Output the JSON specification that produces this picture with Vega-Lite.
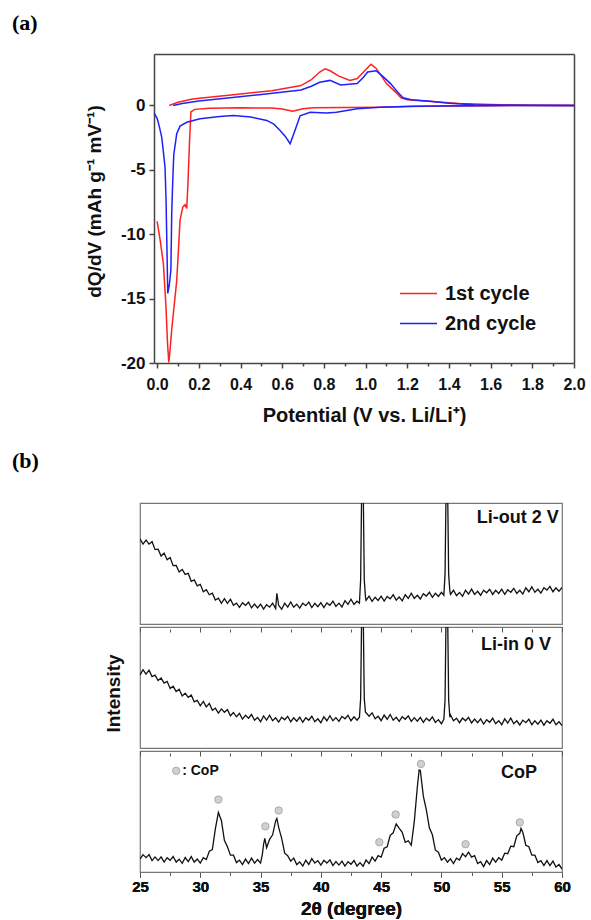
{
"$schema": "https://vega.github.io/schema/vega-lite/v6.json",
"background": "white",
"padding": {"left": 12, "top": 12, "right": 0, "bottom": 0},
"spacing": 25,
"config": {
  "font": "Liberation Sans",
  "axis": {"grid": false, "labelFont": "Liberation Sans", "titleFont": "Liberation Sans", "labelFontWeight": "bold", "titleFontWeight": "bold", "labelColor": "#111", "titleColor": "#111", "domainColor": "#444", "tickColor": "#444"},
  "view": {"stroke": "#444"}
},
"datasets": {
  "cv": [
    {"c":"1st cycle","s":"rd","V":0.0,"q":-9.0},{"c":"1st cycle","s":"rd","V":0.015,"q":-10.5},{"c":"1st cycle","s":"rd","V":0.03,"q":-12.3},{"c":"1st cycle","s":"rd","V":0.042,"q":-15.5},{"c":"1st cycle","s":"rd","V":0.05,"q":-18.5},{"c":"1st cycle","s":"rd","V":0.056,"q":-19.95},{"c":"1st cycle","s":"rd","V":0.062,"q":-19.0},{"c":"1st cycle","s":"rd","V":0.07,"q":-17.4},{"c":"1st cycle","s":"rd","V":0.082,"q":-15.5},{"c":"1st cycle","s":"rd","V":0.094,"q":-13.6},{"c":"1st cycle","s":"rd","V":0.103,"q":-11.0},{"c":"1st cycle","s":"rd","V":0.11,"q":-8.9},{"c":"1st cycle","s":"rd","V":0.123,"q":-7.9},{"c":"1st cycle","s":"rd","V":0.134,"q":-7.7},{"c":"1st cycle","s":"rd","V":0.142,"q":-8.0},{"c":"1st cycle","s":"rd","V":0.148,"q":-6.0},{"c":"1st cycle","s":"rd","V":0.155,"q":-3.0},{"c":"1st cycle","s":"rd","V":0.162,"q":-0.5},{"c":"1st cycle","s":"rd","V":0.18,"q":-0.3},{"c":"1st cycle","s":"rd","V":0.25,"q":-0.22},{"c":"1st cycle","s":"rd","V":0.4,"q":-0.18},{"c":"1st cycle","s":"rd","V":0.55,"q":-0.2},{"c":"1st cycle","s":"rd","V":0.6,"q":-0.28},{"c":"1st cycle","s":"rd","V":0.65,"q":-0.45},{"c":"1st cycle","s":"rd","V":0.7,"q":-0.25},{"c":"1st cycle","s":"rd","V":0.75,"q":-0.18},{"c":"1st cycle","s":"rd","V":0.9,"q":-0.15},{"c":"1st cycle","s":"rd","V":1.07,"q":-0.13},{"c":"1st cycle","s":"rd","V":1.2,"q":-0.08},{"c":"1st cycle","s":"rd","V":1.4,"q":-0.03},{"c":"1st cycle","s":"rd","V":1.6,"q":-0.01},{"c":"1st cycle","s":"rd","V":2.0,"q":0},
    {"c":"1st cycle","s":"rc","V":0.058,"q":0.0},{"c":"1st cycle","s":"rc","V":0.1,"q":0.25},{"c":"1st cycle","s":"rc","V":0.17,"q":0.5},{"c":"1st cycle","s":"rc","V":0.25,"q":0.65},{"c":"1st cycle","s":"rc","V":0.4,"q":0.9},{"c":"1st cycle","s":"rc","V":0.55,"q":1.15},{"c":"1st cycle","s":"rc","V":0.69,"q":1.55},{"c":"1st cycle","s":"rc","V":0.74,"q":2.0},{"c":"1st cycle","s":"rc","V":0.78,"q":2.6},{"c":"1st cycle","s":"rc","V":0.806,"q":2.85},{"c":"1st cycle","s":"rc","V":0.83,"q":2.7},{"c":"1st cycle","s":"rc","V":0.87,"q":2.3},{"c":"1st cycle","s":"rc","V":0.925,"q":1.95},{"c":"1st cycle","s":"rc","V":0.96,"q":2.1},{"c":"1st cycle","s":"rc","V":0.99,"q":2.6},{"c":"1st cycle","s":"rc","V":1.026,"q":3.2},{"c":"1st cycle","s":"rc","V":1.05,"q":2.9},{"c":"1st cycle","s":"rc","V":1.08,"q":2.2},{"c":"1st cycle","s":"rc","V":1.1,"q":1.7},{"c":"1st cycle","s":"rc","V":1.14,"q":1.1},{"c":"1st cycle","s":"rc","V":1.17,"q":0.6},{"c":"1st cycle","s":"rc","V":1.2,"q":0.45},{"c":"1st cycle","s":"rc","V":1.3,"q":0.33},{"c":"1st cycle","s":"rc","V":1.45,"q":0.15},{"c":"1st cycle","s":"rc","V":1.6,"q":0.07},{"c":"1st cycle","s":"rc","V":1.8,"q":0.02},{"c":"1st cycle","s":"rc","V":2.0,"q":0.0},
    {"c":"2nd cycle","s":"bd","V":-0.014,"q":-0.6},{"c":"2nd cycle","s":"bd","V":0.0,"q":-1.0},{"c":"2nd cycle","s":"bd","V":0.01,"q":-1.6},{"c":"2nd cycle","s":"bd","V":0.022,"q":-2.45},{"c":"2nd cycle","s":"bd","V":0.03,"q":-3.6},{"c":"2nd cycle","s":"bd","V":0.038,"q":-4.8},{"c":"2nd cycle","s":"bd","V":0.043,"q":-7.5},{"c":"2nd cycle","s":"bd","V":0.047,"q":-11},{"c":"2nd cycle","s":"bd","V":0.051,"q":-14.6},{"c":"2nd cycle","s":"bd","V":0.058,"q":-14.0},{"c":"2nd cycle","s":"bd","V":0.066,"q":-12.8},{"c":"2nd cycle","s":"bd","V":0.07,"q":-8.4},{"c":"2nd cycle","s":"bd","V":0.075,"q":-5.8},{"c":"2nd cycle","s":"bd","V":0.08,"q":-3.8},{"c":"2nd cycle","s":"bd","V":0.094,"q":-2.2},{"c":"2nd cycle","s":"bd","V":0.11,"q":-1.6},{"c":"2nd cycle","s":"bd","V":0.142,"q":-1.3},{"c":"2nd cycle","s":"bd","V":0.206,"q":-1.03},{"c":"2nd cycle","s":"bd","V":0.3,"q":-0.85},{"c":"2nd cycle","s":"bd","V":0.365,"q":-0.78},{"c":"2nd cycle","s":"bd","V":0.45,"q":-0.9},{"c":"2nd cycle","s":"bd","V":0.526,"q":-1.16},{"c":"2nd cycle","s":"bd","V":0.56,"q":-1.45},{"c":"2nd cycle","s":"bd","V":0.59,"q":-1.94},{"c":"2nd cycle","s":"bd","V":0.615,"q":-2.4},{"c":"2nd cycle","s":"bd","V":0.638,"q":-2.97},{"c":"2nd cycle","s":"bd","V":0.66,"q":-2.0},{"c":"2nd cycle","s":"bd","V":0.686,"q":-0.8},{"c":"2nd cycle","s":"bd","V":0.734,"q":-0.52},{"c":"2nd cycle","s":"bd","V":0.814,"q":-0.59},{"c":"2nd cycle","s":"bd","V":0.86,"q":-0.52},{"c":"2nd cycle","s":"bd","V":0.96,"q":-0.26},{"c":"2nd cycle","s":"bd","V":1.07,"q":-0.13},{"c":"2nd cycle","s":"bd","V":1.23,"q":-0.06},{"c":"2nd cycle","s":"bd","V":1.5,"q":-0.01},{"c":"2nd cycle","s":"bd","V":2.0,"q":0},
    {"c":"2nd cycle","s":"bc","V":0.077,"q":0.0},{"c":"2nd cycle","s":"bc","V":0.12,"q":0.15},{"c":"2nd cycle","s":"bc","V":0.2,"q":0.35},{"c":"2nd cycle","s":"bc","V":0.35,"q":0.6},{"c":"2nd cycle","s":"bc","V":0.5,"q":0.85},{"c":"2nd cycle","s":"bc","V":0.69,"q":1.2},{"c":"2nd cycle","s":"bc","V":0.74,"q":1.5},{"c":"2nd cycle","s":"bc","V":0.78,"q":1.8},{"c":"2nd cycle","s":"bc","V":0.83,"q":1.95},{"c":"2nd cycle","s":"bc","V":0.88,"q":1.6},{"c":"2nd cycle","s":"bc","V":0.96,"q":1.7},{"c":"2nd cycle","s":"bc","V":0.99,"q":2.2},{"c":"2nd cycle","s":"bc","V":1.01,"q":2.6},{"c":"2nd cycle","s":"bc","V":1.05,"q":2.7},{"c":"2nd cycle","s":"bc","V":1.08,"q":2.3},{"c":"2nd cycle","s":"bc","V":1.12,"q":1.7},{"c":"2nd cycle","s":"bc","V":1.15,"q":1.1},{"c":"2nd cycle","s":"bc","V":1.18,"q":0.6},{"c":"2nd cycle","s":"bc","V":1.22,"q":0.45},{"c":"2nd cycle","s":"bc","V":1.31,"q":0.33},{"c":"2nd cycle","s":"bc","V":1.4,"q":0.17},{"c":"2nd cycle","s":"bc","V":1.52,"q":0.05},{"c":"2nd cycle","s":"bc","V":1.7,"q":0.01},{"c":"2nd cycle","s":"bc","V":2.0,"q":0.0}
  ],
  "b1": [
    {"t":25,"I":86},{"t":25.25,"I":80.5},{"t":25.5,"I":84.5},{"t":25.75,"I":80.5},{"t":26,"I":83},{"t":26.25,"I":75},{"t":26.5,"I":75.5},{"t":26.75,"I":68.5},{"t":27,"I":71.5},{"t":27.25,"I":64.8},{"t":27.5,"I":67},{"t":27.75,"I":58.8},{"t":28,"I":59},{"t":28.25,"I":52.5},{"t":28.5,"I":55},{"t":28.75,"I":50},{"t":29,"I":51},{"t":29.25,"I":43},{"t":29.5,"I":44.5},{"t":29.75,"I":38.5},{"t":30,"I":40},{"t":30.25,"I":32.5},{"t":30.5,"I":34.5},{"t":30.75,"I":29.5},{"t":31,"I":31},{"t":31.25,"I":24.2},{"t":31.5,"I":26},{"t":31.75,"I":20.8},{"t":32,"I":25.5},{"t":32.25,"I":20.8},{"t":32.5,"I":25},{"t":32.75,"I":18.8},{"t":33,"I":21},{"t":33.25,"I":16.8},{"t":33.5,"I":21.5},{"t":33.75,"I":18.8},{"t":34,"I":22},{"t":34.25,"I":16.2},{"t":34.5,"I":20},{"t":34.75,"I":16.2},{"t":35,"I":20},{"t":35.25,"I":15},{"t":35.5,"I":19.5},{"t":35.75,"I":17},{"t":36,"I":21},{"t":36.25,"I":15.6},{"t":36.35,"I":31},{"t":36.5,"I":18.8},{"t":36.75,"I":14.9},{"t":37,"I":21},{"t":37.25,"I":17.1},{"t":37.5,"I":22.2},{"t":37.75,"I":16.9},{"t":38,"I":20},{"t":38.25,"I":16},{"t":38.5,"I":21},{"t":38.75,"I":18.5},{"t":39,"I":22},{"t":39.25,"I":16.6},{"t":39.5,"I":20.8},{"t":39.75,"I":17.4},{"t":40,"I":21.5},{"t":40.25,"I":16.6},{"t":40.5,"I":21.2},{"t":40.75,"I":18.9},{"t":41,"I":23},{"t":41.25,"I":17.8},{"t":41.5,"I":21},{"t":41.75,"I":17.2},{"t":42,"I":23.5},{"t":42.25,"I":19.8},{"t":42.5,"I":25},{"t":42.75,"I":19.8},{"t":43,"I":23},{"t":43.2,"I":21},{"t":43.3,"I":45},{"t":43.38,"I":130},{"t":43.45,"I":400},{"t":43.52,"I":130},{"t":43.6,"I":45},{"t":43.7,"I":27},{"t":43.75,"I":23.8},{"t":44,"I":28},{"t":44.25,"I":22.8},{"t":44.5,"I":27},{"t":44.75,"I":23.8},{"t":45,"I":28},{"t":45.25,"I":23.1},{"t":45.5,"I":27.8},{"t":45.75,"I":25.4},{"t":46,"I":29.5},{"t":46.25,"I":24.1},{"t":46.5,"I":27.2},{"t":46.75,"I":23.4},{"t":47,"I":29.5},{"t":47.25,"I":25.8},{"t":47.5,"I":31},{"t":47.75,"I":25.8},{"t":48,"I":29},{"t":48.25,"I":25.2},{"t":48.5,"I":30.5},{"t":48.75,"I":28.2},{"t":49,"I":32},{"t":49.25,"I":26.8},{"t":49.5,"I":31},{"t":49.75,"I":27.8},{"t":50,"I":32},{"t":50.2,"I":29},{"t":50.3,"I":50},{"t":50.38,"I":130},{"t":50.45,"I":400},{"t":50.52,"I":130},{"t":50.6,"I":50},{"t":50.7,"I":33},{"t":50.75,"I":29.8},{"t":51,"I":34},{"t":51.25,"I":28.6},{"t":51.5,"I":31.8},{"t":51.75,"I":27.9},{"t":52,"I":34},{"t":52.25,"I":30.1},{"t":52.5,"I":35.2},{"t":52.75,"I":29.9},{"t":53,"I":33},{"t":53.25,"I":29},{"t":53.5,"I":34},{"t":53.75,"I":31.5},{"t":54,"I":35},{"t":54.25,"I":29.8},{"t":54.5,"I":34},{"t":54.75,"I":30.8},{"t":55,"I":35},{"t":55.25,"I":30},{"t":55.5,"I":34.5},{"t":55.75,"I":32},{"t":56,"I":36},{"t":56.25,"I":30.8},{"t":56.5,"I":34},{"t":56.75,"I":30.2},{"t":57,"I":36.5},{"t":57.25,"I":32.5},{"t":57.5,"I":37.5},{"t":57.75,"I":32},{"t":58,"I":35},{"t":58.25,"I":31.2},{"t":58.5,"I":36.5},{"t":58.75,"I":34.2},{"t":59,"I":38},{"t":59.25,"I":32.5},{"t":59.5,"I":36.5},{"t":59.75,"I":33},{"t":60,"I":37}
  ],
  "b2": [
    {"t":25,"I":73.5},{"t":25.25,"I":79},{"t":25.5,"I":74.5},{"t":25.75,"I":78.5},{"t":26,"I":72},{"t":26.25,"I":73.5},{"t":26.5,"I":68},{"t":26.75,"I":70.5},{"t":27,"I":65.5},{"t":27.25,"I":67.2},{"t":27.5,"I":60},{"t":27.75,"I":62.2},{"t":28,"I":57},{"t":28.25,"I":59.2},{"t":28.5,"I":52.5},{"t":28.75,"I":55.2},{"t":29,"I":51},{"t":29.25,"I":53.5},{"t":29.5,"I":46.5},{"t":29.75,"I":48},{"t":30,"I":42.5},{"t":30.25,"I":47},{"t":30.5,"I":41.5},{"t":30.75,"I":45},{"t":31,"I":38},{"t":31.25,"I":40.1},{"t":31.5,"I":35.2},{"t":31.75,"I":39.4},{"t":32,"I":36},{"t":32.25,"I":38.8},{"t":32.5,"I":32.5},{"t":32.75,"I":35.8},{"t":33,"I":31.5},{"t":33.25,"I":34.9},{"t":33.5,"I":29.2},{"t":33.75,"I":33.1},{"t":34,"I":30},{"t":34.25,"I":33.8},{"t":34.5,"I":28},{"t":34.75,"I":30.8},{"t":35,"I":26.5},{"t":35.25,"I":32.4},{"t":35.5,"I":28.2},{"t":35.75,"I":33.1},{"t":36,"I":27.5},{"t":36.25,"I":30.4},{"t":36.5,"I":26.2},{"t":36.75,"I":31.1},{"t":37,"I":28.5},{"t":37.25,"I":32},{"t":37.5,"I":26.5},{"t":37.75,"I":30.5},{"t":38,"I":27},{"t":38.25,"I":31},{"t":38.5,"I":26},{"t":38.75,"I":30.5},{"t":39,"I":28},{"t":39.25,"I":32},{"t":39.5,"I":26.5},{"t":39.75,"I":29.5},{"t":40,"I":25.5},{"t":40.25,"I":31.5},{"t":40.5,"I":27.5},{"t":40.75,"I":32.5},{"t":41,"I":27.5},{"t":41.25,"I":30.6},{"t":41.5,"I":26.8},{"t":41.75,"I":31.9},{"t":42,"I":29.5},{"t":42.25,"I":33},{"t":42.5,"I":27.5},{"t":42.75,"I":31.5},{"t":43,"I":28},{"t":43.2,"I":31},{"t":43.3,"I":50},{"t":43.38,"I":130},{"t":43.45,"I":400},{"t":43.52,"I":130},{"t":43.6,"I":50},{"t":43.7,"I":36},{"t":43.75,"I":35.5},{"t":44,"I":32},{"t":44.25,"I":35.5},{"t":44.5,"I":29.5},{"t":44.75,"I":32},{"t":45,"I":27.5},{"t":45.25,"I":33.2},{"t":45.5,"I":29},{"t":45.75,"I":33.8},{"t":46,"I":28},{"t":46.25,"I":30.9},{"t":46.5,"I":26.8},{"t":46.75,"I":31.6},{"t":47,"I":29},{"t":47.25,"I":32.4},{"t":47.5,"I":26.8},{"t":47.75,"I":30.6},{"t":48,"I":27},{"t":48.25,"I":30.9},{"t":48.5,"I":25.8},{"t":48.75,"I":30.1},{"t":49,"I":27.5},{"t":49.25,"I":31.4},{"t":49.5,"I":25.8},{"t":49.75,"I":28.6},{"t":50,"I":24.5},{"t":50.2,"I":29},{"t":50.3,"I":48},{"t":50.38,"I":130},{"t":50.45,"I":400},{"t":50.52,"I":130},{"t":50.6,"I":48},{"t":50.7,"I":31},{"t":50.75,"I":33.5},{"t":51,"I":27.5},{"t":51.25,"I":30},{"t":51.5,"I":25.5},{"t":51.75,"I":30.2},{"t":52,"I":27.5},{"t":52.25,"I":30.9},{"t":52.5,"I":25.2},{"t":52.75,"I":29.1},{"t":53,"I":25.5},{"t":53.25,"I":29.4},{"t":53.5,"I":24.2},{"t":53.75,"I":28.6},{"t":54,"I":26},{"t":54.25,"I":30},{"t":54.5,"I":24.5},{"t":54.75,"I":27.5},{"t":55,"I":23.5},{"t":55.25,"I":29.4},{"t":55.5,"I":25.2},{"t":55.75,"I":30.1},{"t":56,"I":24.5},{"t":56.25,"I":27.4},{"t":56.5,"I":23.2},{"t":56.75,"I":28.1},{"t":57,"I":25.5},{"t":57.25,"I":29},{"t":57.5,"I":23.5},{"t":57.75,"I":27.5},{"t":58,"I":24},{"t":58.25,"I":28},{"t":58.5,"I":23},{"t":58.75,"I":27.5},{"t":59,"I":25},{"t":59.25,"I":29},{"t":59.5,"I":23.5},{"t":59.75,"I":26.5},{"t":60,"I":22.5}
  ],
  "b3": [
    {"t":25,"I":13},{"t":25.25,"I":17.5},{"t":25.5,"I":14.5},{"t":25.75,"I":17.5},{"t":26,"I":11.5},{"t":26.25,"I":15.2},{"t":26.5,"I":11.5},{"t":26.75,"I":15.2},{"t":27,"I":10},{"t":27.25,"I":14.4},{"t":27.5,"I":11.8},{"t":27.75,"I":15.6},{"t":28,"I":10},{"t":28.25,"I":12.9},{"t":28.5,"I":8.8},{"t":28.75,"I":14.6},{"t":29,"I":10.5},{"t":29.25,"I":15.5},{"t":29.5,"I":10},{"t":29.75,"I":13},{"t":30,"I":9},{"t":30.25,"I":14.5},{"t":30.5,"I":12.5},{"t":30.75,"I":21},{"t":31,"I":22.5},{"t":31.25,"I":43.5},{"t":31.5,"I":60},{"t":31.75,"I":52},{"t":32,"I":32},{"t":32.25,"I":25.5},{"t":32.5,"I":17},{"t":32.75,"I":17},{"t":33,"I":9.5},{"t":33.25,"I":12},{"t":33.5,"I":7.5},{"t":33.75,"I":13},{"t":34,"I":8.5},{"t":34.25,"I":14},{"t":34.5,"I":9},{"t":34.75,"I":12.5},{"t":35,"I":9},{"t":35.15,"I":18},{"t":35.25,"I":28},{"t":35.35,"I":34},{"t":35.5,"I":24.5},{"t":35.75,"I":33},{"t":36,"I":37.5},{"t":36.25,"I":51.5},{"t":36.35,"I":54},{"t":36.5,"I":45},{"t":36.75,"I":34},{"t":37,"I":19},{"t":37.25,"I":16.5},{"t":37.5,"I":11},{"t":37.75,"I":14},{"t":38,"I":7.5},{"t":38.25,"I":10.2},{"t":38.5,"I":6},{"t":38.75,"I":11.8},{"t":39,"I":7.5},{"t":39.25,"I":13.5},{"t":39.5,"I":9},{"t":39.75,"I":11.5},{"t":40,"I":7},{"t":40.25,"I":11.8},{"t":40.5,"I":9},{"t":40.75,"I":12.2},{"t":41,"I":6.5},{"t":41.25,"I":10.5},{"t":41.5,"I":7},{"t":41.75,"I":11},{"t":42,"I":6},{"t":42.25,"I":10.4},{"t":42.5,"I":7.8},{"t":42.75,"I":11.6},{"t":43,"I":6},{"t":43.25,"I":9.4},{"t":43.5,"I":5.8},{"t":43.75,"I":12.1},{"t":44,"I":8.5},{"t":44.25,"I":15},{"t":44.5,"I":11},{"t":44.75,"I":16.5},{"t":45,"I":15},{"t":45.25,"I":24},{"t":45.5,"I":25.5},{"t":45.75,"I":37},{"t":46,"I":39.5},{"t":46.25,"I":48.5},{"t":46.5,"I":44},{"t":46.75,"I":40},{"t":47,"I":30},{"t":47.25,"I":31.5},{"t":47.5,"I":27},{"t":47.75,"I":51},{"t":48,"I":85.5},{"t":48.15,"I":103},{"t":48.25,"I":102.5},{"t":48.35,"I":92},{"t":48.5,"I":76.5},{"t":48.75,"I":62.5},{"t":49,"I":44.5},{"t":49.25,"I":37.5},{"t":49.5,"I":22},{"t":49.75,"I":20},{"t":50,"I":12},{"t":50.25,"I":14.5},{"t":50.5,"I":10},{"t":50.75,"I":13.3},{"t":51,"I":8.5},{"t":51.25,"I":14},{"t":51.5,"I":12},{"t":51.75,"I":18.5},{"t":52,"I":15.5},{"t":52.25,"I":20},{"t":52.5,"I":15},{"t":52.75,"I":16.5},{"t":53,"I":8.5},{"t":53.25,"I":10.5},{"t":53.5,"I":5.5},{"t":53.75,"I":11.5},{"t":54,"I":7.5},{"t":54.25,"I":14},{"t":54.5,"I":10},{"t":54.75,"I":14.5},{"t":55,"I":12},{"t":55.25,"I":19},{"t":55.5,"I":18.5},{"t":55.75,"I":26},{"t":56,"I":25.5},{"t":56.25,"I":36.5},{"t":56.5,"I":39},{"t":56.6,"I":44},{"t":56.75,"I":40},{"t":57,"I":27},{"t":57.25,"I":25.5},{"t":57.5,"I":17},{"t":57.75,"I":17},{"t":58,"I":9.5},{"t":58.25,"I":11.5},{"t":58.5,"I":6.5},{"t":58.75,"I":11.5},{"t":59,"I":6.5},{"t":59.25,"I":11},{"t":59.5,"I":5},{"t":59.75,"I":7.5},{"t":60,"I":3}
  ],
  "cop": [
    {"t":31.5,"I":73},{"t":35.4,"I":46},{"t":36.5,"I":62},{"t":44.85,"I":30},{"t":46.2,"I":58},{"t":48.3,"I":109},{"t":52.0,"I":28},{"t":56.5,"I":50},{"t":28.0,"I":102}
  ]
},
"vconcat": [
  {
    "width": 434, "height": 309,
    "view": {"stroke": null},
    "title": {"text": "(a)", "anchor": "start", "frame": "group", "dx": -128, "offset": -3, "baseline": "bottom", "font": "Liberation Serif", "fontSize": 22, "fontWeight": "bold", "color": "#000"},
    "data": {"name": "cv"},
    "layer": [
      {
        "mark": {"type": "line", "strokeWidth": 1.5, "clip": true},
        "encoding": {
          "x": {"field": "V", "type": "quantitative", "scale": {"domain": [-0.015, 2], "range": [14, 434], "nice": false, "zero": false},
            "axis": {"values": [0,0.1,0.2,0.3,0.4,0.5,0.6,0.7,0.8,0.9,1.0,1.1,1.2,1.3,1.4,1.5,1.6,1.7,1.8,1.9,2.0],
              "labelExpr": "round(datum.value*10) % 2 === 0 ? format(datum.value, '.1f') : ''",
              "tickSize": {"condition": {"test": "round(datum.value*10) % 2 === 0", "value": 5}, "value": 3},
              "labelFontSize": 16, "labelPadding": 8, "labelOverlap": false, "labelFlush": false,
              "title": "Potential (V vs. Li/Li⁺)", "titleFontSize": 20, "titlePadding": 13,
              "domainWidth": 1.5, "tickWidth": 1.5}},
          "y": {"field": "q", "type": "quantitative", "scale": {"domain": [-20, 4], "nice": false, "zero": false},
            "axis": {"values": [-20,-15,-10,-5,0], "labelExpr": "toString(datum.value)", "tickSize": 5, "offset": -14,
              "labelFontSize": 17, "labelPadding": 4, "labelOverlap": false, "labelFlush": false,
              "title": "dQ/dV (mAh g⁻¹ mV⁻¹)", "titleFontSize": 19, "titlePadding": 16, "titleY": 147,
              "domainWidth": 1.5, "tickWidth": 1.5}},
          "color": {"field": "c", "type": "nominal",
            "scale": {"domain": ["1st cycle", "2nd cycle"], "range": ["#ff2020", "#2020ff"]},
            "legend": {"orient": "none", "legendX": 259, "legendY": 220, "title": null, "symbolType": "stroke", "symbolSize": 1369, "symbolStrokeWidth": 1.6, "labelFontSize": 20, "labelFontWeight": "bold", "labelFont": "Liberation Sans", "labelColor": "#111", "rowPadding": -3, "labelOffset": 7}},
          "detail": {"field": "s"}
        }
      },
      {
        "mark": {"type": "line", "opacity": 0},
        "encoding": {
          "x": {"field": "V", "type": "quantitative",
            "axis": {"orient": "top", "labels": false, "ticks": false, "title": null, "domainWidth": 1.5}},
          "y": {"field": "q", "type": "quantitative",
            "axis": {"orient": "right", "labels": false, "ticks": false, "title": null, "domainWidth": 1.5}},
          "detail": {"field": "s"}
        }
      }
    ],
    "resolve": {"axis": {"x": "independent", "y": "independent"}}
  },
  {
    "spacing": 0,
    "title": {"text": "(b)", "anchor": "start", "frame": "group", "dx": -128, "offset": 7, "baseline": "bottom", "font": "Liberation Serif", "fontSize": 22, "fontWeight": "bold", "color": "#000"},
    "vconcat": [
      {
        "width": 422, "height": 121,
        "view": {"stroke": "#777", "strokeWidth": 1.2},
        "encoding": {
          "x": {"field": "t", "type": "quantitative", "scale": {"domain": [25, 60], "nice": false, "zero": false}, "axis": null},
          "y": {"field": "I", "type": "quantitative", "scale": {"domain": [0, 122], "nice": false, "zero": false},
            "axis": {"title": "Intensity", "titleOpacity": 0, "labels": false, "ticks": false, "domain": false, "titlePadding": 17, "titleFontSize": 19, "titleY": 66}}
        },
        "layer": [
          {"data": {"name": "b1"}, "mark": {"type": "line", "color": "#111", "strokeWidth": 1.3, "clip": true}},
          {"data": {"values": [{"txt": "Li-out 2 V", "t": 59.74, "I": 107}]},
           "mark": {"type": "text", "align": "right", "baseline": "middle", "fontSize": 18, "fontWeight": "bold", "font": "Liberation Sans", "color": "#111"},
           "encoding": {"text": {"field": "txt"}}}
        ]
      },
      {
        "width": 422, "height": 121,
        "view": {"stroke": "#777", "strokeWidth": 1.2},
        "encoding": {
          "x": {"field": "t", "type": "quantitative", "scale": {"domain": [25, 60], "nice": false, "zero": false},
            "axis": {"orient": "top", "offset": -5, "labels": false, "domain": false, "title": null,
              "values": [25,27.5,30,32.5,35,37.5,40,42.5,45,47.5,50,52.5,55,57.5,60],
              "tickSize": {"condition": {"test": "datum.value % 5 === 0", "value": 5}, "value": 3}, "tickColor": "#555"}},
          "y": {"field": "I", "type": "quantitative", "scale": {"domain": [0, 122], "nice": false, "zero": false},
            "axis": {"title": "Intensity", "labels": false, "ticks": false, "domain": false, "titlePadding": 17, "titleFontSize": 19, "titleY": 66}}
        },
        "layer": [
          {"data": {"name": "b2"}, "mark": {"type": "line", "color": "#111", "strokeWidth": 1.3, "clip": true}},
          {"data": {"values": [{"txt": "Li-in 0 V", "t": 59.08, "I": 103.5}]},
           "mark": {"type": "text", "align": "right", "baseline": "middle", "fontSize": 18, "fontWeight": "bold", "font": "Liberation Sans", "color": "#111"},
           "encoding": {"text": {"field": "txt"}}}
        ]
      },
      {
        "width": 422, "height": 121,
        "view": {"stroke": "#777", "strokeWidth": 1.2},
        "encoding": {
          "x": {"field": "t", "type": "quantitative", "scale": {"domain": [25, 60], "nice": false, "zero": false},
            "axis": {"orient": "bottom", "values": [25,27.5,30,32.5,35,37.5,40,42.5,45,47.5,50,52.5,55,57.5,60],
              "labelExpr": "datum.value % 5 === 0 ? datum.label : ''", "labelOverlap": false, "labelFlush": false,
              "tickSize": {"condition": {"test": "datum.value % 5 === 0", "value": 5}, "value": 3},
              "labelFontSize": 15, "labelPadding": 2, "domainColor": "#777", "tickColor": "#555",
              "title": "2θ (degree)", "titleFontSize": 19, "titlePadding": 5}},
          "y": {"field": "I", "type": "quantitative", "scale": {"domain": [0, 122], "nice": false, "zero": false},
            "axis": {"title": "Intensity", "titleOpacity": 0, "labels": false, "ticks": false, "domain": false, "titlePadding": 17, "titleFontSize": 19, "titleY": 66}}
        },
        "layer": [
          {"data": {"name": "b3"}, "mark": {"type": "line", "color": "#111", "strokeWidth": 1.3, "clip": true}},
          {"data": {"name": "cop"}, "mark": {"type": "point", "shape": "circle", "filled": true, "size": 55, "color": "#bdbdbd", "stroke": "#888", "strokeWidth": 1},
           "encoding": {"x": {"field": "t", "type": "quantitative", "scale": {"domain": [25, 60], "nice": false, "zero": false},
             "axis": {"orient": "top", "offset": -5, "labels": false, "domain": false, "title": null,
               "values": [25,27.5,30,32.5,35,37.5,40,42.5,45,47.5,50,52.5,55,57.5,60],
               "tickSize": {"condition": {"test": "datum.value % 5 === 0", "value": 5}, "value": 3}, "tickColor": "#555"}}}},
          {"data": {"values": [{"txt": "CoP", "t": 57.92, "I": 99.5}]},
           "mark": {"type": "text", "align": "right", "baseline": "middle", "fontSize": 18, "fontWeight": "bold", "font": "Liberation Sans", "color": "#111"},
           "encoding": {"text": {"field": "txt"}}},
          {"data": {"values": [{"txt": ": CoP", "t": 28.5, "I": 102}]},
           "mark": {"type": "text", "align": "left", "baseline": "middle", "fontSize": 14, "fontWeight": "bold", "font": "Liberation Sans", "color": "#111"},
           "encoding": {"text": {"field": "txt"}}}
        ],
        "resolve": {"axis": {"x": "independent"}}
      }
    ]
  }
]
}
